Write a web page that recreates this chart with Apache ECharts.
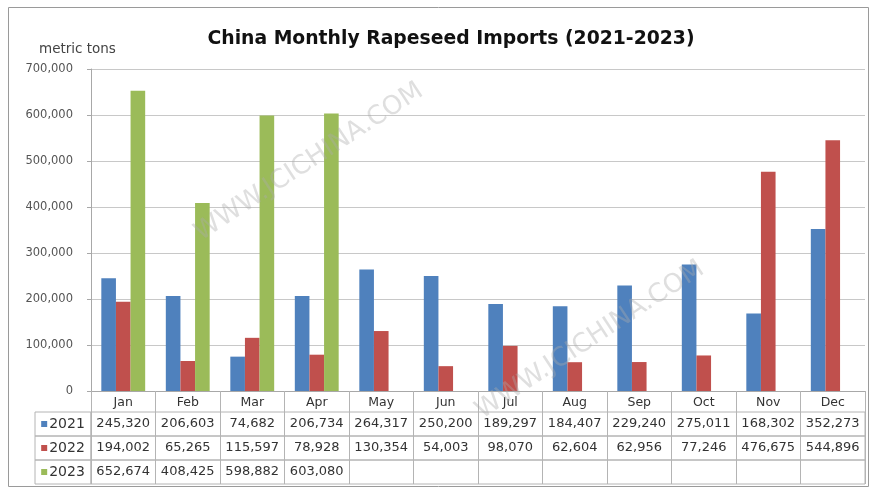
<!DOCTYPE html>
<html>
<head>
<meta charset="utf-8">
<script src="https://cdn.jsdelivr.net/npm/echarts@6/dist/echarts.min.js"></script>
<style>html,body{margin:0;padding:0;background:#fff}#c{width:871px;height:490px}</style>
</head>
<body>
<div id="c"></div>
<script>
const months = ['Jan','Feb','Mar','Apr','May','Jun','Jul','Aug','Sep','Oct','Nov','Dec'];
const years = ['2021','2022','2023'];
const imports2021 = [245320,206603,74682,206734,264317,250200,189297,184407,229240,275011,168302,352273];
const imports2022 = [194002,65265,115597,78928,130354,54003,98070,62604,62956,77246,476675,544896];
const imports2023 = [652674,408425,598882,603080,null,null,null,null,null,null,null,null];
const yMin = 0, yMax = 700000, yStep = 100000;
const colors = ['#4F81BD','#C0504D','#9BBB59'];
const seriesData = [imports2021, imports2022, imports2023];

const FONT = 'DejaVu Sans';
const fmt = v => (v === null || v === undefined) ? '' : String(v).replace(/\B(?=(\d{3})+(?!\d))/g, ',');

const grids = [{ left: 91, right: 6, top: 69, bottom: 99, show: false }];
const xAxes = [{
  type: 'category', data: months, gridIndex: 0,
  axisLine: { lineStyle: { color: '#a8a8a8' } },
  axisTick: { show: true, length: 21, interval: 0, lineStyle: { color: '#b4b4b4' } },
  axisLabel: { interval: 0, margin: 5, fontFamily: FONT, fontSize: 12.5, color: '#333' }
}];
const yAxes = [{
  type: 'value', gridIndex: 0, min: yMin, max: yMax, interval: yStep,
  axisLine: { show: true, lineStyle: { color: '#a8a8a8' } },
  axisTick: { show: true, length: 4, lineStyle: { color: '#a8a8a8' } },
  splitLine: { lineStyle: { color: '#c8c8c8' } },
  axisLabel: { margin: 18, fontFamily: FONT, fontSize: 11.5, color: '#555', formatter: v => fmt(v) }
}];

const rowTop = 412, rowH = 24;
for (let r = 0; r < 3; r++) {
  grids.push({ left: 91, right: 6, top: rowTop + r * rowH, height: rowH, show: true, borderColor: '#b4b4b4', borderWidth: 1, backgroundColor: 'transparent' });
}
for (let r = 0; r < 3; r++) {
  grids.push({ left: 35, width: 56, top: rowTop + r * rowH, height: rowH, show: true, borderColor: '#b4b4b4', borderWidth: 1, backgroundColor: 'transparent' });
}
for (let r = 0; r < 3; r++) {
  const vals = seriesData[r];
  xAxes.push({
    type: 'category', gridIndex: 1 + r, position: 'top',
    data: months.map((m, i) => fmt(vals[i])),
    axisLine: { show: false }, axisTick: { show: false },
    splitLine: { show: true, interval: 0, lineStyle: { color: '#b4b4b4' } },
    axisLabel: { inside: true, interval: 0, margin: 12, verticalAlign: 'middle', fontFamily: FONT, fontSize: 13, color: '#333' }
  });
  yAxes.push({ type: 'value', gridIndex: 1 + r, show: false });
}
for (let r = 0; r < 3; r++) {
  xAxes.push({
    type: 'category', gridIndex: 4 + r, position: 'top',
    data: [years[r]],
    axisLine: { show: false }, axisTick: { show: false },
    axisLabel: {
      inside: true, interval: 0, margin: 12, verticalAlign: 'middle',
      formatter: v => '{sq|}{t|' + v + '}',
      rich: {
        sq: { width: 6, height: 6, backgroundColor: colors[r] },
        t: { fontFamily: FONT, fontSize: 14, color: '#333', padding: [0, 0, 0, 2] }
      }
    }
  });
  yAxes.push({ type: 'value', gridIndex: 4 + r, show: false });
}

const series = years.map((y, r) => ({
  name: y, type: 'bar', xAxisIndex: 0, yAxisIndex: 0,
  data: seriesData[r], barGap: '0%', barCategoryGap: '32%',
  itemStyle: { color: colors[r] }, animation: false
}));

const chart = echarts.init(document.getElementById('c'), null, { renderer: 'canvas' });
chart.setOption({
  animation: false,
  backgroundColor: '#fff',
  title: [
    { text: 'China Monthly Rapeseed Imports (2021-2023)', left: 446, top: 25, textAlign: 'center',
      textStyle: { fontFamily: FONT, fontWeight: 'bold', fontSize: 18.8, color: '#111' } },
    { text: 'metric tons', left: 34, top: 37,
      textStyle: { fontFamily: FONT, fontWeight: 'normal', fontSize: 13.5, color: '#444' } }
  ],
  grid: grids, xAxis: xAxes, yAxis: yAxes, series: series,
  graphic: [
    { type: 'rect', z: -1, silent: true, shape: { x: 8.5, y: 7.5, width: 860, height: 479 },
      style: { fill: 'none', stroke: '#9a9a9a', lineWidth: 1 } },
    { type: 'text', x: 309, y: 162, rotation: 0.58, silent: true, z: 10,
      style: { text: 'WWW.JCICHINA.COM', font: '26px "DejaVu Sans"', fill: 'rgba(170,170,170,0.38)', align: 'center', verticalAlign: 'middle' } },
    { type: 'text', x: 590, y: 340, rotation: 0.58, silent: true, z: 10,
      style: { text: 'WWW.JCICHINA.COM', font: '26px "DejaVu Sans"', fill: 'rgba(170,170,170,0.38)', align: 'center', verticalAlign: 'middle' } }
  ]
});
</script>
</body>
</html>
